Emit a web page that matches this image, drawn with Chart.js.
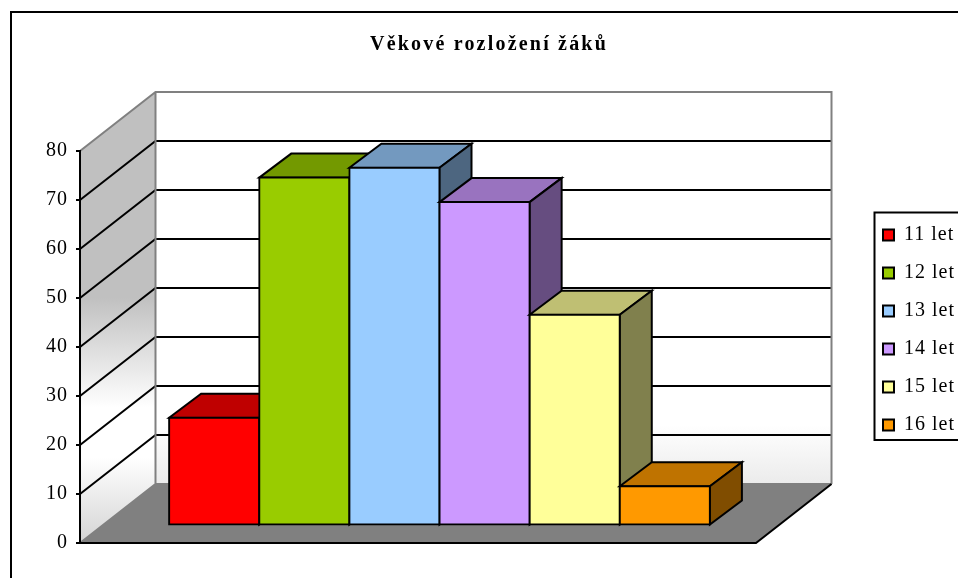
<!DOCTYPE html>
<html><head><meta charset="utf-8">
<style>html,body{margin:0;padding:0;background:#fff;overflow:hidden}canvas{display:block}</style>
<script src="https://cdn.jsdelivr.net/npm/chart.js@4"></script>
</head><body>
<canvas id="c" width="958" height="578"></canvas>
<script>
const chartTitle = 'Věkové rozložení žáků';
const categories = [''];
const seriesNames = ['11 let', '12 let', '13 let', '14 let', '15 let', '16 let'];
const seriesValues = [22, 71, 73, 66, 43, 8];
const frontColors = ['#ff0000', '#99cc00', '#99ccff', '#cc99ff', '#ffff99', '#ff9900'];
const topColors = ['#bf0000', '#739900', '#7399bf', '#9973bf', '#bfbf73', '#bf7300'];
const sideColors = ['#800000', '#4d6600', '#4d6680', '#664d80', '#80804d', '#804d00'];
const yTicks = [0, 10, 20, 30, 40, 50, 60, 70, 80];

const WALL = {dx: 75.5, dy: -59};
const BAR_SHIFT = {dx: 21.5, dy: -17.5};
const BAR_DEPTH = {dx: 32, dy: -24};

function poly(ctx, pts, fill, stroke, lw) {
  ctx.beginPath();
  pts.forEach((p, i) => i ? ctx.lineTo(p[0], p[1]) : ctx.moveTo(p[0], p[1]));
  ctx.closePath();
  if (fill) { ctx.fillStyle = fill; ctx.fill(); }
  if (stroke) { ctx.strokeStyle = stroke; ctx.lineWidth = lw; ctx.lineJoin = 'miter'; ctx.stroke(); }
}

const scene = {
  id: 'scene',
  beforeLayout(chart) { chart.ctx.letterSpacing = '1px'; },
  afterLayout(chart) {
    const lg = chart.legend;
    const w = lg.right - lg.left;
    lg.left = 865; lg.right = lg.left + w;
    const h = lg.bottom - lg.top;
    lg.top = 207; lg.bottom = lg.top + h;
    if (!chart.titleBlock._spaced) {
      const d = chart.titleBlock.draw.bind(chart.titleBlock);
      chart.titleBlock.draw = function () {
        const c = chart.ctx, old = c.letterSpacing;
        c.letterSpacing = '2.2px';
        d();
        c.letterSpacing = old;
      };
      chart.titleBlock._spaced = true;
    }
  },
  beforeDraw(chart) {
    const ctx = chart.ctx, y = chart.scales.y, a = chart.chartArea;
    ctx.letterSpacing = '1px';
    const L = a.left, R = a.right, dx = WALL.dx, dy = WALL.dy;
    const y0 = y.getPixelForValue(0), yM = y.getPixelForValue(80);
    ctx.save();
    // outer chart frame
    ctx.strokeStyle = '#000'; ctx.lineWidth = 2;
    ctx.strokeRect(11, 12, 2000, 2000);
    // legend frame
    ctx.strokeRect(874.5, 212.5, 200, 227.5);
    // side wall
    const gs = ctx.createLinearGradient(0, yM + dy, 0, y0);
    gs.addColorStop(0, '#c0c0c0'); gs.addColorStop(0.455, '#c0c0c0');
    gs.addColorStop(0.7, '#ffffff'); gs.addColorStop(0.81, '#ffffff'); gs.addColorStop(1, '#d4d4d4');
    poly(ctx, [[L, yM], [L + dx, yM + dy], [L + dx, y0 + dy], [L, y0]], gs);
    // back wall
    const gb = ctx.createLinearGradient(0, yM + dy, 0, y0 + dy);
    gb.addColorStop(0, '#ffffff'); gb.addColorStop(0.85, '#ffffff'); gb.addColorStop(1, '#ebebeb');
    poly(ctx, [[L + dx, yM + dy], [R + dx, yM + dy], [R + dx, y0 + dy], [L + dx, y0 + dy]], gb);
    // floor
    poly(ctx, [[L, y0], [L + dx, y0 + dy], [R + dx, y0 + dy], [R, y0]], '#808080');
    // grid lines through the y scale
    ctx.strokeStyle = '#000'; ctx.lineWidth = 2;
    yTicks.slice(1, -1).forEach(v => {
      const p = y.getPixelForValue(v);
      ctx.beginPath();
      ctx.moveTo(L, p); ctx.lineTo(L + dx, p + dy); ctx.lineTo(R + dx, p + dy);
      ctx.stroke();
    });
    // wall outline
    ctx.strokeStyle = '#808080';
    ctx.beginPath();
    ctx.moveTo(L, y0); ctx.lineTo(L + dx, y0 + dy); ctx.lineTo(R + dx, y0 + dy);
    ctx.moveTo(L, yM); ctx.lineTo(L + dx, yM + dy); ctx.lineTo(R + dx, yM + dy); ctx.lineTo(R + dx, y0 + dy);
    ctx.moveTo(L + dx, yM + dy); ctx.lineTo(L + dx, y0 + dy);
    ctx.stroke();
    // floor front and right edges
    ctx.strokeStyle = '#000';
    ctx.beginPath();
    ctx.moveTo(L, y0); ctx.lineTo(R, y0); ctx.lineTo(R + dx, y0 + dy);
    ctx.stroke();
    ctx.restore();
  },
  beforeDatasetsDraw(chart) {
    const ctx = chart.ctx;
    const metas = chart.data.datasets.map((_, i) => chart.getDatasetMeta(i));
    ctx.save();
    ctx.translate(BAR_SHIFT.dx, BAR_SHIFT.dy);
    metas.forEach((m, i) => {
      m.data.forEach(b => {
        const l = b.x - b.width / 2, r = b.x + b.width / 2, t = b.y, bot = b.base;
        const dx = BAR_DEPTH.dx, dy = BAR_DEPTH.dy;
        poly(ctx, [[l, t], [l + dx, t + dy], [r + dx, t + dy], [r, t]], topColors[i], '#000', 2);
        poly(ctx, [[r, t], [r + dx, t + dy], [r + dx, bot + dy], [r, bot]], sideColors[i], '#000', 2);
      });
      m.controller.draw();
    });
    ctx.restore();
    return false;
  }
};

function chartLegendWidth(s) { return s.chart.legend ? s.chart.legend.width : 91; }

new Chart(document.getElementById('c'), {
  type: 'bar',
  data: {
    labels: categories,
    datasets: seriesNames.map((n, i) => ({
      label: n,
      data: [seriesValues[i]],
      backgroundColor: frontColors[i],
      borderColor: '#000',
      borderWidth: 2,
      borderSkipped: false,
      inflateAmount: 1,
      categoryPercentage: 0.8,
      barPercentage: 1
    }))
  },
  plugins: [scene],
  options: {
    responsive: false,
    animation: false,
    layout: {padding: {left: 20, right: 0, top: 0, bottom: 35}},
    font: {family: '"Liberation Serif", serif'},
    scales: {
      x: {display: false},
      y: {
        min: 0, max: 80,
        afterFit(s) { s.width = 60; },
        afterBuildTicks(s) { s.ticks = yTicks.map(v => ({value: v})); },
        border: {display: true, color: '#000', width: 2},
        grid: {drawOnChartArea: false, drawTicks: true, tickLength: 4, color: '#000', lineWidth: 2},
        ticks: {color: '#000', padding: 8, font: {family: '"Liberation Serif", serif', size: 20}}
      },
      y2: {
        position: 'right',
        display: true,
        afterFit(s) { s.width = 958 - 756 - chartLegendWidth(s); },
        border: {display: false},
        grid: {display: false},
        ticks: {display: false}
      }
    },
    plugins: {
      tooltip: {enabled: false},
      title: {
        display: true, text: chartTitle, color: '#000',
        font: {family: '"Liberation Serif", serif', size: 20, weight: 'bold'},
        padding: {top: 33, bottom: 94}
      },
      legend: {
        position: 'right', align: 'start',
        labels: {
          color: '#000', boxWidth: 11, boxHeight: 11, padding: 18,
          font: {family: '"Liberation Serif", serif', size: 20}
        }
      }
    }
  }
});
</script>
</body></html>
